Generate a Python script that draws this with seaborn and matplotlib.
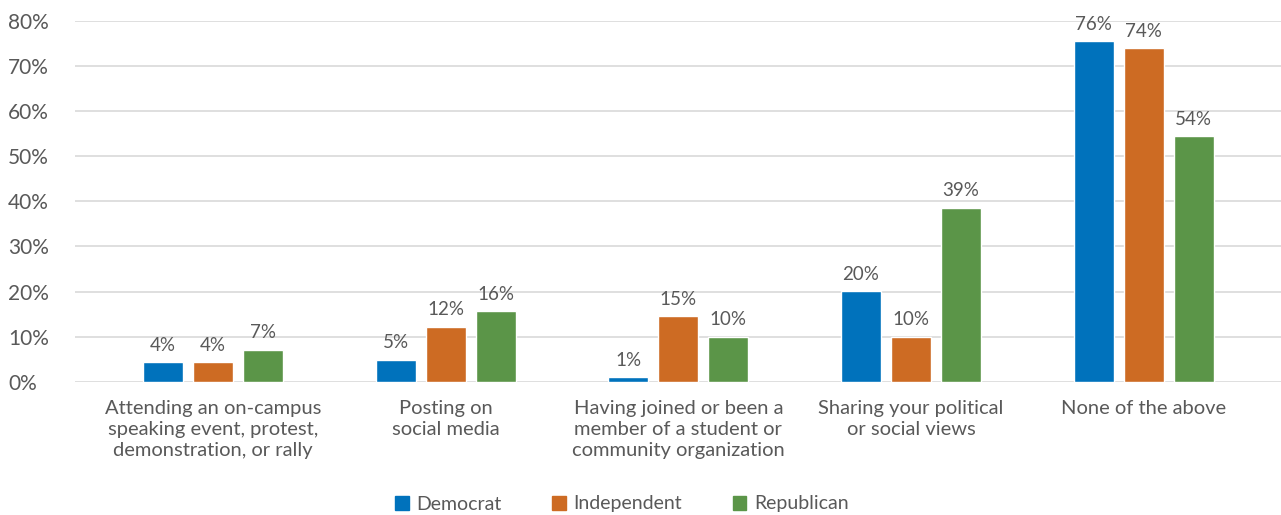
import matplotlib
matplotlib.use("Agg")
import matplotlib.pyplot as plt
import seaborn as sns
import pandas as pd

# data
categories = [
    "Attending an on-campus\nspeaking event, protest,\ndemonstration, or rally",
    "Posting on\nsocial media",
    "Having joined or been a\nmember of a student or\ncommunity organization",
    "Sharing your political\nor social views",
    "None of the above",
]
parties = ["Democrat", "Independent", "Republican"]
democrat = [4.3, 4.9, 1.0, 20.1, 75.6]
independent = [4.3, 12.2, 14.6, 10.0, 74.0]
republican = [7.1, 15.6, 10.0, 38.6, 54.4]
colors = ["#0072BC", "#CD6B23", "#5B9548"]

df = pd.DataFrame({
    "category": categories * 3,
    "party": [p for p in parties for _ in categories],
    "value": democrat + independent + republican,
})

sns.set_theme(style="white")
plt.rcParams["font.family"] = ["Lato", "DejaVu Sans"]
text_col = "#595959"

fig = plt.figure(figsize=(12.81, 5.15), dpi=100)
ax = fig.add_axes([75 / 1281, (515 - 381.7) / 515, 1 - 75 / 1281, (381.7 - 21) / 515])

sns.barplot(data=df, x="category", y="value", hue="party", order=categories,
            hue_order=parties, palette=colors, width=0.645, gap=0.2,
            saturation=1, errorbar=None, ax=ax, zorder=3)

# value labels
for cont in ax.containers:
    ax.bar_label(cont, labels=["%d%%" % round(v) for v in cont.datavalues],
                 padding=6, fontsize=13.5, color=text_col)

ax.set_ylim(0, 80)
ax.set_xlim(-0.593, 4.59)
ax.set_yticks(range(0, 81, 10))
ax.set_yticklabels(["%d%%" % t for t in range(0, 81, 10)])
ax.yaxis.grid(True, color="#D9D9D9", lw=1.2, zorder=0)
ax.set_axisbelow(True)
for s in ax.spines.values():
    s.set_visible(False)
ax.tick_params(axis="y", labelsize=15, labelcolor=text_col, pad=0, length=0)
ax.tick_params(axis="x", labelsize=14.5, labelcolor=text_col, pad=13, length=0)
for lbl in ax.get_yticklabels():
    lbl.set_horizontalalignment("left")
    lbl.set_x(-75 / 1206 + 8 / 1206)
for lbl in ax.get_xticklabels():
    lbl.set_linespacing(1.3)
ax.set_xlabel("")
ax.set_ylabel("")

ax.legend_.remove()
handles = [plt.Rectangle((0, 0), 1, 1, color=c) for c in colors]
fig.legend(handles, parties, loc="center", bbox_to_anchor=(622 / 1281, 11 / 515),
           ncol=3, frameon=False, fontsize=14, labelcolor=text_col,
           handlelength=0.7, handleheight=0.7, handletextpad=0.4, columnspacing=2.6)

fig.savefig("out.png", dpi=100)
